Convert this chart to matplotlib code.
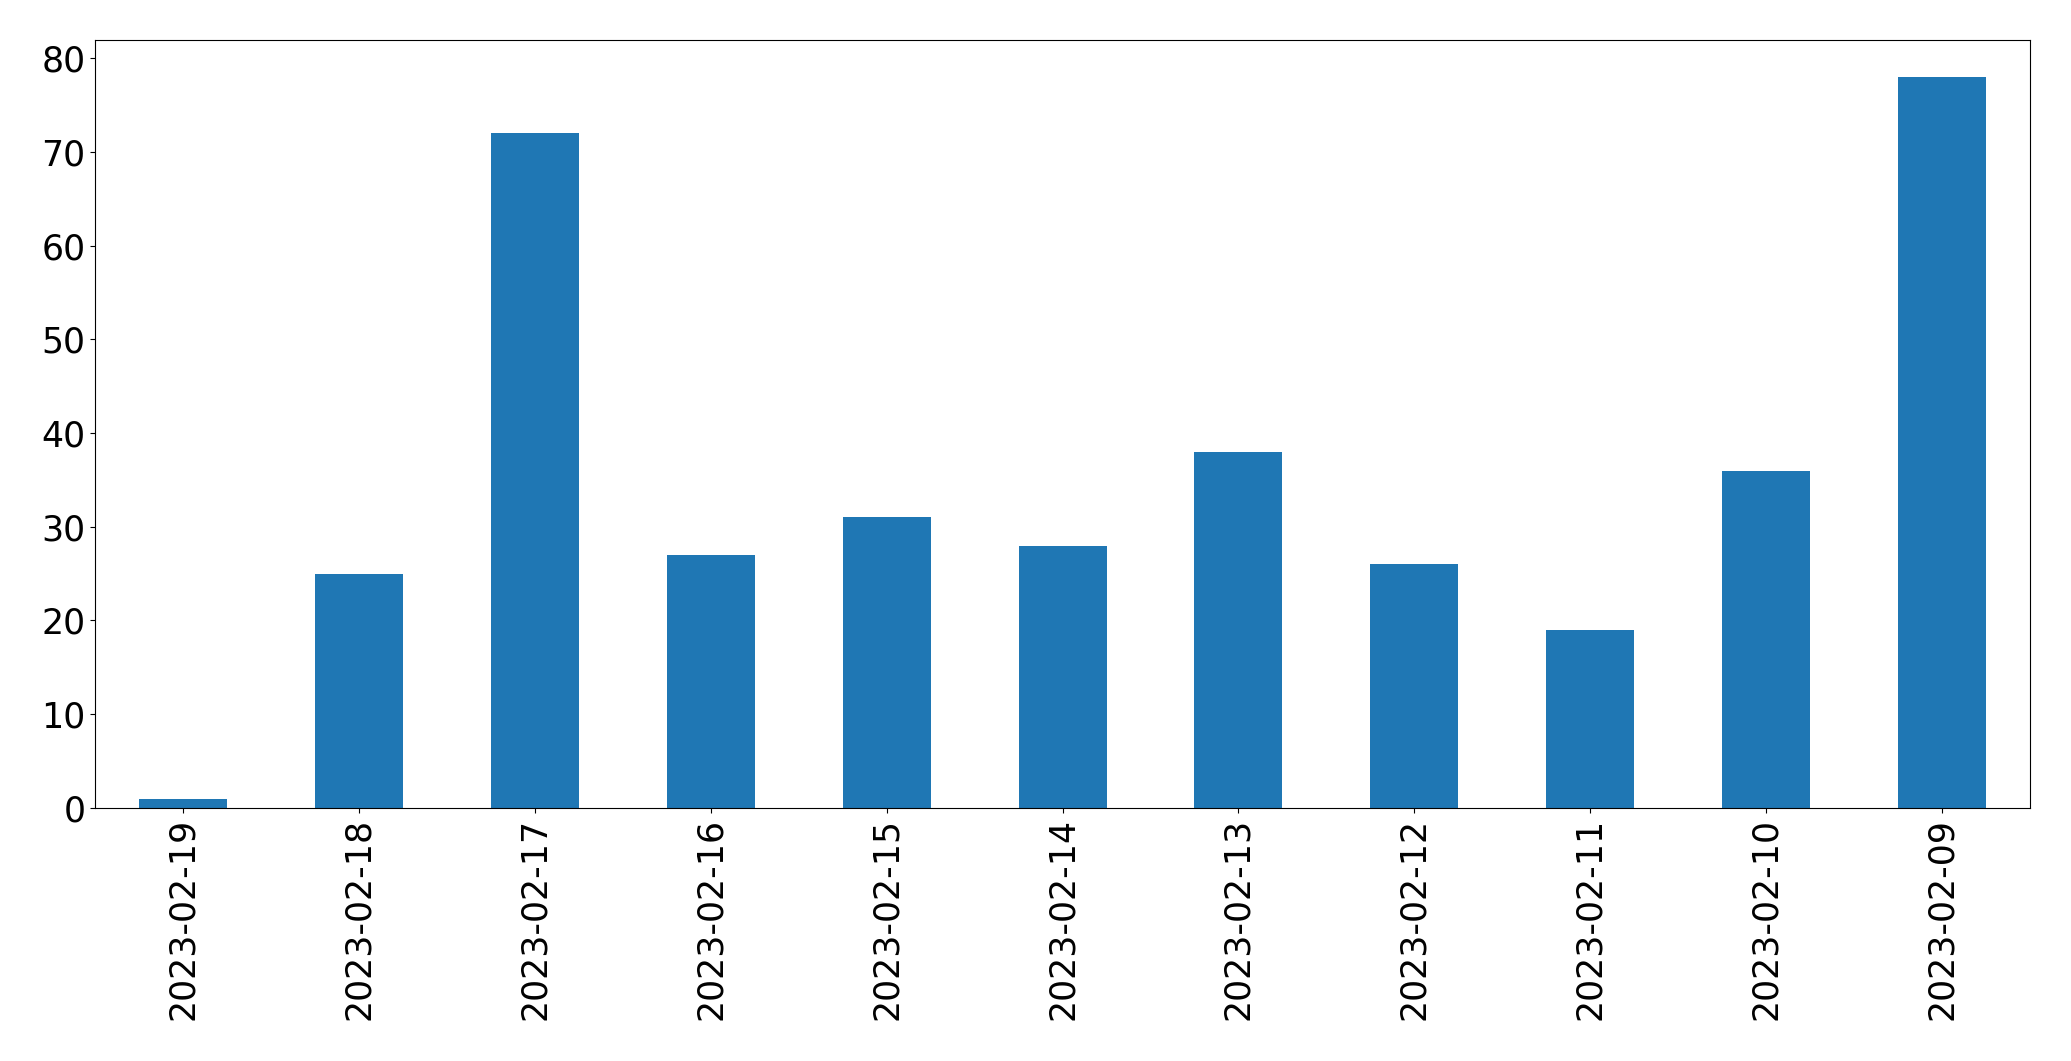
import pandas as pd
import matplotlib
matplotlib.use('Agg')
import matplotlib.pyplot as plt

# Counts per day
dates = ["2023-02-19", "2023-02-18", "2023-02-17", "2023-02-16", "2023-02-15",
         "2023-02-14", "2023-02-13", "2023-02-12", "2023-02-11", "2023-02-10",
         "2023-02-09"]
counts = [1, 25, 72, 27, 31, 28, 38, 26, 19, 36, 78]

s = pd.Series(counts, index=dates)

fig = plt.figure(figsize=(20.71, 10.61), dpi=100)
ax = fig.add_axes([0.0459, 0.2385, 0.9343, 0.7235])
s.plot(kind="bar", ax=ax, color="#1f77b4")
ax.tick_params(axis="both", labelsize=25)
plt.setp(ax.get_xticklabels(), rotation=90)
fig.savefig("out.png", dpi=100)
